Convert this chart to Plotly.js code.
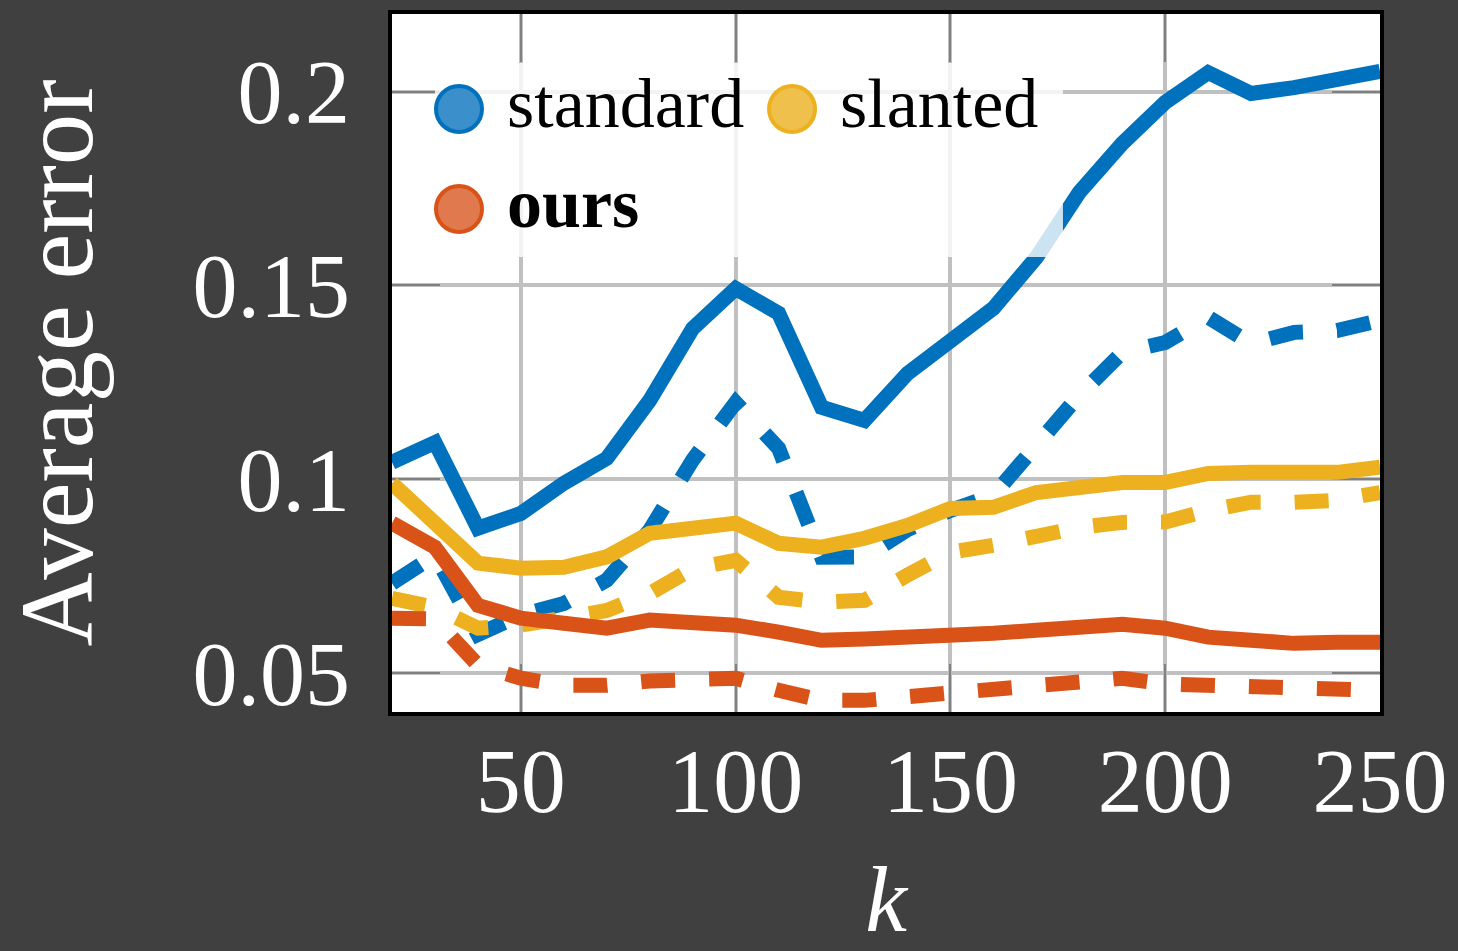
<!DOCTYPE html>
<html>
<head>
<meta charset="utf-8">
<script src="https://cdn.plot.ly/plotly-3.0.1.min.js"></script>
<style>
  html, body { margin: 0; padding: 0; background: #404040; }
  #chart { width: 1458px; height: 951px; }
</style>
</head>
<body>
<div id="chart"></div>
<script>
// ---- data ----
const k = [20, 30, 40, 50, 60, 70, 80, 90, 100, 110, 120, 130, 140, 150, 160, 170, 180, 190, 200, 210, 220, 230, 240, 250];

const standardSolid = [0.1044, 0.1095, 0.0874, 0.0912, 0.0990, 0.1054, 0.1204, 0.1389, 0.1492, 0.1428, 0.1186, 0.1152,
                       0.1273, 0.1358, 0.1441, 0.1572, 0.1740, 0.1866, 0.1972, 0.2049, 0.1995, 0.2010, 0.2031, 0.2052];
const standardDashed = [0.0732, 0.0804, 0.0600, 0.0650, 0.0680, 0.0740, 0.0869, 0.1050, 0.1198, 0.1080, 0.0799, 0.0800,
                        0.0870, 0.0920, 0.0959, 0.1090, 0.1217, 0.1327, 0.1353, 0.1418, 0.1350, 0.1379, 0.1384, 0.1410];
const slantedSolid = [0.0990, 0.0881, 0.0784, 0.0771, 0.0773, 0.0800, 0.0861, 0.0874, 0.0887, 0.0835, 0.0825, 0.0848,
                      0.0881, 0.0925, 0.0928, 0.0966, 0.0980, 0.0992, 0.0992, 0.1015, 0.1018, 0.1018, 0.1018, 0.1031];
const slantedDashed = [0.0693, 0.0670, 0.0616, 0.0624, 0.0642, 0.0662, 0.0706, 0.0770, 0.0791, 0.0696, 0.0683, 0.0688,
                       0.0753, 0.0812, 0.0830, 0.0856, 0.0876, 0.0889, 0.0890, 0.0920, 0.0941, 0.0941, 0.0946, 0.0966];
const oursSolid = [0.0887, 0.0825, 0.0675, 0.0642, 0.0629, 0.0616, 0.0637, 0.0631, 0.0624, 0.0606, 0.0585, 0.0588,
                   0.0590, 0.0598, 0.0603, 0.0611, 0.0619, 0.0626, 0.0616, 0.0593, 0.0585, 0.0577, 0.0580, 0.0580];
const oursDashed = [0.0642, 0.0640, 0.0521, 0.0487, 0.0469, 0.0469, 0.0480, 0.0485, 0.0487, 0.0456, 0.0430, 0.0430,
                    0.0441, 0.0451, 0.0459, 0.0466, 0.0482, 0.0487, 0.0472, 0.0469, 0.0466, 0.0466, 0.0461, 0.0456];

const xTickVals = [50, 100, 150, 200, 250];
const xTickText = ['50', '100', '150', '200', '250'];
const yTickVals = [0.05, 0.1, 0.15, 0.2];
const yTickText = ['0.05', '0.1', '0.15', '0.2'];

const legendNames = ['standard', 'slanted', '<b>ours</b>'];
const colors = { standard: '#0072BD', slanted: '#EDB120', ours: '#D95319' };
const legendFill = { standard: '#3B8FCB', slanted: '#EFC04C', ours: '#E07A4E' };

// ---- traces ----
const LW = 15;
const DASH = '34px,34px';
function line(y, color, dashed, name) {
  return {
    x: k, y: y, type: 'scatter', mode: 'lines', name: name, showlegend: false,
    line: { color: color, width: LW, dash: dashed ? DASH : 'solid', shape: 'linear' },
    hoverinfo: 'skip'
  };
}
const traces = [
  line(standardDashed, colors.standard, true, 'standard (dashed)'),
  line(slantedDashed, colors.slanted, true, 'slanted (dashed)'),
  line(oursDashed, colors.ours, true, 'ours (dashed)'),
  line(standardSolid, colors.standard, false, 'standard'),
  line(slantedSolid, colors.slanted, false, 'slanted'),
  line(oursSolid, colors.ours, false, 'ours')
];

// ---- legend (custom, drawn in paper coordinates) ----
const legendBox = { x0: 0.0435, x1: 0.6791, y0: 0.6519, y1: 0.9298 };
const legendItems = [
  { key: 'standard', cx: 0.0678, cy: 0.8639, tx: 0.1144 },
  { key: 'slanted',  cx: 0.4049, cy: 0.8639, tx: 0.4514 },
  { key: 'ours',     cx: 0.0678, cy: 0.7206, tx: 0.1144 }
];
const shapes = [{
  type: 'rect', xref: 'paper', yref: 'paper', layer: 'above',
  x0: legendBox.x0, x1: legendBox.x1, y0: legendBox.y0, y1: legendBox.y1,
  fillcolor: 'rgba(255,255,255,0.8)', line: { width: 0 }
}];
const annotations = [];
legendItems.forEach((it, i) => {
  shapes.push({
    type: 'circle', xref: 'paper', yref: 'paper', layer: 'above',
    xsizemode: 'pixel', ysizemode: 'pixel', xanchor: it.cx, yanchor: it.cy,
    x0: -23, x1: 23, y0: -23, y1: 23,
    fillcolor: legendFill[it.key], line: { color: colors[it.key], width: 4 }
  });
  annotations.push({
    xref: 'paper', yref: 'paper', x: it.tx, y: it.cy + 0.008,
    xanchor: 'left', yanchor: 'middle', showarrow: false,
    text: legendNames[i],
    font: { family: 'Liberation Serif, serif', size: 70, color: '#000000' }
  });
});

const layout = {
  width: 1458, height: 951,
  paper_bgcolor: '#404040', plot_bgcolor: '#ffffff',
  margin: { l: 392, r: 78, t: 14, b: 239, pad: 0 },
  showlegend: false,
  font: { family: 'Liberation Serif, serif', color: '#ffffff' },
  xaxis: {
    range: [20, 250], tickmode: 'array', tickvals: xTickVals, ticktext: xTickText,
    ticks: 'inside', ticklen: 48, tickwidth: 2, tickcolor: '#808080',
    showline: true, linecolor: '#000000', linewidth: 4, mirror: 'ticks',
    showgrid: true, gridcolor: '#c0c0c0', gridwidth: 4, zeroline: false,
    tickfont: { family: 'Liberation Serif, serif', size: 90, color: '#ffffff' },
    ticklabelstandoff: -12,
    layer: 'below traces',
    title: { text: '<i>k</i>', font: { family: 'Liberation Serif, serif', size: 94, color: '#ffffff' }, standoff: 87 }
  },
  yaxis: {
    range: [0.04, 0.22], tickmode: 'array', tickvals: yTickVals, ticktext: yTickText,
    ticks: 'inside', ticklen: 48, tickwidth: 2, tickcolor: '#808080',
    showline: true, linecolor: '#000000', linewidth: 4, mirror: 'ticks',
    showgrid: true, gridcolor: '#c0c0c0', gridwidth: 4, zeroline: false,
    tickfont: { family: 'Liberation Serif, serif', size: 90, color: '#ffffff' },
    ticklabelstandoff: 20,
    layer: 'below traces',
    title: { text: 'Average error', font: { family: 'Liberation Serif, serif', size: 103, color: '#ffffff' }, standoff: 66 }
  },
  shapes: shapes,
  annotations: annotations
};

Plotly.newPlot('chart', traces, layout, { displayModeBar: false, staticPlot: true });
</script>
</body>
</html>
